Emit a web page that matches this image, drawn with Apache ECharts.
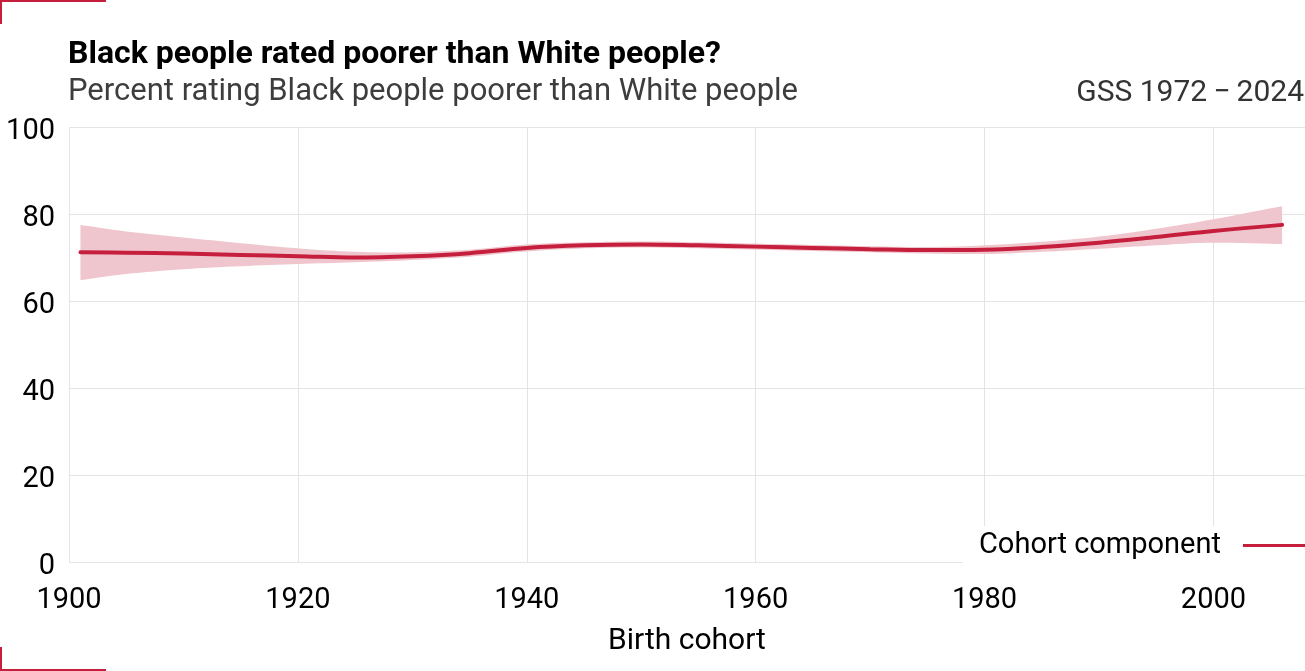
<!DOCTYPE html>
<html>
<head>
<meta charset="utf-8">
<script src="https://cdn.jsdelivr.net/npm/echarts@6/dist/echarts.min.js"></script>
<style>
  html, body { margin: 0; padding: 0; background: #fff; }
  #chart { width: 1305px; height: 671px; }
</style>
</head>
<body>
<div id="chart"></div>
<script>
// birth cohorts (x values)
const years = [1901, 1905, 1910, 1915, 1920, 1925, 1930, 1935, 1940, 1945, 1950,
  1955, 1960, 1965, 1970, 1975, 1980, 1985, 1990, 1995, 2000, 2006]
// smoothed cohort component, percent
const cohortLine = [71.2, 71.1, 70.9, 70.6, 70.3, 70.0, 70.3, 71.0, 72.2, 72.8, 73.0,
  72.8, 72.5, 72.2, 71.9, 71.7, 71.8, 72.4, 73.4, 74.7, 76.1, 77.5]
// confidence band
const bandLower = [64.8, 66.2, 67.3, 68.0, 68.5, 68.9, 69.4, 70.2, 71.4, 72.1, 72.3,
  72.1, 71.8, 71.5, 71.2, 70.9, 70.8, 71.3, 72.0, 72.8, 73.4, 73.1]
const bandUpper = [77.5, 76.0, 74.6, 73.3, 72.1, 71.3, 71.2, 71.8, 73.0, 73.5, 73.7,
  73.5, 73.2, 72.9, 72.6, 72.4, 72.8, 73.6, 74.8, 76.6, 78.8, 81.8]
const yTicks = [0, 20, 40, 60, 80, 100]
const xTicks = [1900, 1920, 1940, 1960, 1980, 2000]

const red = '#c61f3d'
const font = 'Roboto'

// catmull-rom smoothing of pixel points, only used for drawing the band outline
const smoothPts = (pts, steps = 8) => {
  const out = []
  for (let i = 0; i < pts.length - 1; i++) {
    const p0 = pts[Math.max(i - 1, 0)]
    const p1 = pts[i]
    const p2 = pts[i + 1]
    const p3 = pts[Math.min(i + 2, pts.length - 1)]
    for (let s = 0; s < steps; s++) {
      const t = s / steps
      const t2 = t * t
      const t3 = t2 * t
      out.push([0, 1].map(k => 0.5 * (2 * p1[k] + (-p0[k] + p2[k]) * t +
        (2 * p0[k] - 5 * p1[k] + 4 * p2[k] - p3[k]) * t2 +
        (-p0[k] + 3 * p1[k] - 3 * p2[k] + p3[k]) * t3)))
    }
  }
  out.push(pts[pts.length - 1])
  return out
}

const chart = echarts.init(document.getElementById('chart'))

const option = {
  backgroundColor: '#fff',
  animation: false,
  textStyle: { fontFamily: font },
  title: [
    {
      text: 'Black people rated poorer than White people?',
      left: 68, top: 39,
      padding: 0,
      textStyle: { fontFamily: font, fontSize: 32, fontWeight: 'bold', color: '#000' }
    },
    {
      text: 'Percent rating Black people poorer than White people',
      left: 68, top: 77,
      padding: 0,
      textStyle: { fontFamily: font, fontSize: 31, fontWeight: 'normal', color: '#3d3d3d' }
    },
    {
      text: 'GSS 1972\u2009\u2212\u20092024',
      right: 1, top: 78,
      padding: 0,
      textStyle: { fontFamily: font, fontSize: 30, fontWeight: 'normal', color: '#333' }
    }
  ],
  grid: { left: 69, right: 0, top: 127, bottom: 109 },
  legend: {
    data: ['Cohort component'],
    right: 0,
    bottom: 106,
    align: 'right',
    backgroundColor: '#fff',
    padding: [5, 0, 5, 16],
    itemWidth: 62,
    itemHeight: 3,
    icon: 'rect',
    textStyle: { fontFamily: font, fontSize: 29, color: '#000', padding: [0, 17, 0, 0] }
  },
  xAxis: {
    type: 'value',
    min: 1900,
    max: 2008,
    interval: 20,
    name: 'Birth cohort',
    nameLocation: 'middle',
    nameGap: 64,
    nameTextStyle: { fontFamily: font, fontSize: 30, color: '#000' },
    axisLine: { show: false },
    axisTick: { show: false },
    axisLabel: {
      showMaxLabel: false,
      margin: 24,
      fontFamily: font, fontSize: 29, color: '#000',
      formatter: v => xTicks.includes(v) ? String(v) : ''
    },
    splitLine: { show: true, lineStyle: { color: '#e4e4e4', width: 1 } }
  },
  yAxis: {
    type: 'value',
    min: 0,
    max: 100,
    interval: 20,
    axisLine: { show: false },
    axisTick: { show: false },
    axisLabel: {
      margin: 14,
      fontFamily: font, fontSize: 29, color: '#000',
      formatter: v => yTicks.includes(v) ? '{t|' + v + '}' : '',
      rich: {
        t: { fontFamily: font, fontSize: 29, color: '#000', padding: [10, 0, 0, 0] }
      }
    },
    splitLine: { show: true, lineStyle: { color: '#e4e4e4', width: 1 } }
  },
  series: [
    {
      name: 'band',
      type: 'custom',
      silent: true,
      z: 1,
      data: [[years[0], cohortLine[0]]],
      renderItem: (params, api) => {
        const upper = smoothPts(years.map((y, i) => api.coord([y, bandUpper[i]])))
        const lower = smoothPts(years.map((y, i) => api.coord([y, bandLower[i]])))
        return {
          type: 'polygon',
          shape: { points: upper.concat(lower.reverse()) },
          style: { fill: '#efc6cd', stroke: null }
        }
      }
    },
    {
      name: 'Cohort component',
      type: 'line',
      smooth: 0.4,
      symbol: 'none',
      color: red,
      lineStyle: { color: red, width: 4, cap: 'round' },
      data: years.map((y, i) => [y, cohortLine[i]]),
      z: 5
    }
  ],
  graphic: [
    { type: 'line', shape: { x1: 0, y1: 1, x2: 106, y2: 1 }, style: { stroke: red, lineWidth: 2 } },
    { type: 'line', shape: { x1: 1, y1: 0, x2: 1, y2: 24 }, style: { stroke: red, lineWidth: 2 } },
    { type: 'line', shape: { x1: 1, y1: 647, x2: 1, y2: 671 }, style: { stroke: red, lineWidth: 2 } },
    { type: 'line', shape: { x1: 0, y1: 670, x2: 106, y2: 670 }, style: { stroke: red, lineWidth: 2 } }
  ]
}

chart.setOption(option)
window.addEventListener('resize', () => chart.resize())
</script>
</body>
</html>
